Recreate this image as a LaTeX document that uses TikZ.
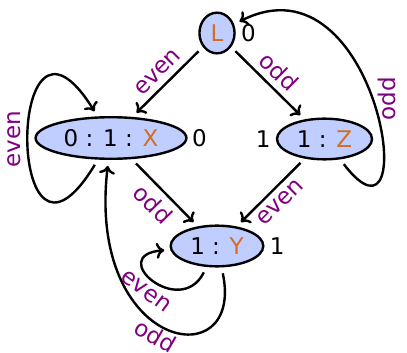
\documentclass[tikz,border=0pt]{standalone}
\usepackage{fontspec}
\setmainfont{DejaVu Sans}
\usetikzlibrary{arrows.meta,positioning,shapes.geometric}

\definecolor{statefill}{RGB}{191,206,255}
\definecolor{namecol}{RGB}{212,108,36}
\definecolor{condcol}{RGB}{128,0,128}
\newcommand{\nm}[1]{\textcolor{namecol}{#1}}

\begin{document}
\begin{tikzpicture}[
  x=0.5pt, y=-0.5pt,
  >={To[length=4pt,width=8pt]},
  font=\fontsize{11.5}{13}\selectfont,
  state/.style={ellipse, draw, line width=1.2pt, fill=statefill, inner sep=3pt},
  weight/.style={inner sep=2pt},
  edge/.style={->, line width=1.2pt, shorten <=3pt, shorten >=3pt},
  cond/.style={text=condcol, sloped, inner sep=3pt},
  upcond/.style={text=condcol, rotate=90, inner sep=3pt}
]
\useasboundingbox (0,0) rectangle (407,353);

\node[state] (L) at (217,33) {\nm{L}};
\node[state] (X) at (111,138) {0 : 1 : \nm{X}};
\node[state] (Z) at (324.5,139) {1 : \nm{Z}};
\node[state] (Y) at (217,246) {1 : \nm{Y}};

\node[weight, right=0.5pt of L] (wL) {0};
\node[weight, right=0pt of X] (wX) {0};
\node[weight, left=0.5pt of Z] (wZ) {1};
\node[weight, right=0.5pt of Y] (wY) {1};

\draw[edge] (L) -- node[cond, above] {even} (X);
\draw[edge] (L) -- node[cond, above] {odd} (Z);
\draw[edge] (X) -- node[cond, below] {odd} (Y);
\draw[edge] (Z) -- node[cond, below] {even} (Y);

% loops and long bends
\draw[edge] (X) .. controls (5,313) and (5,-33) .. node[upcond, above] {even} (X);
\draw[edge] (Y) .. controls (180,320) and (105,255) .. node[cond, below] {even} (Y);
\draw[edge] (Y) .. controls (245,378) and (86,352) .. node[cond, pos=0.52, below, inner sep=1pt] {odd} (X);
\draw[edge] (Z) .. controls (425,270) and (380,-50) .. node[upcond, pos=0.52, below] {odd} (L);
\end{tikzpicture}
\end{document}
